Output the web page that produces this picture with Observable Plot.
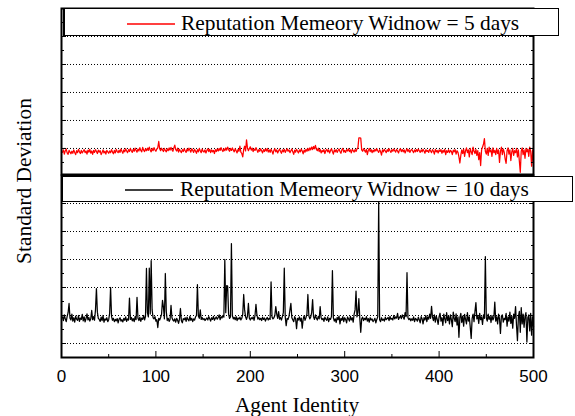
<!DOCTYPE html>
<html><head><meta charset="utf-8">
<script src="https://cdn.jsdelivr.net/npm/d3@7"></script>
<script src="https://cdn.jsdelivr.net/npm/@observablehq/plot@0.6"></script>
<style>
html,body{margin:0;padding:0;background:#fff;}
#chart{position:relative;width:575px;height:416px;overflow:hidden;font-family:"Liberation Serif",serif;color:#000;}
#chart > svg{position:absolute;left:0;top:0;background:transparent;overflow:visible;}
.lg{position:absolute;box-sizing:border-box;background:#fff;border:1px solid #000;}
.lg svg.s{position:absolute;width:48px;height:4px;overflow:visible;}
.lg .t{position:absolute;font-size:21.4px;line-height:21.4px;white-space:nowrap;}
.lab{position:absolute;font-size:21.4px;line-height:21.4px;white-space:nowrap;}
</style></head><body><div id="chart"></div>
<script>
// ---- data ----
const agents = d3.range(1, 501);
const red5 = [
0.86,0.95,0.80,0.92,0.98,0.84,0.79,0.93,0.87,0.81,
0.90,0.83,0.95,0.86,0.78,0.92,0.85,0.97,0.88,0.82,
0.93,0.84,0.90,0.96,0.85,0.91,0.80,0.94,0.87,0.97,
0.83,0.91,0.79,0.93,0.86,0.96,0.89,0.82,0.94,0.87,
0.92,0.78,0.86,0.95,0.84,0.90,0.80,0.93,0.88,0.83,
0.91,0.85,0.96,0.87,0.81,0.93,0.84,0.97,0.89,0.85,
0.94,0.86,0.98,0.90,0.83,0.95,0.88,0.99,0.91,0.85,
0.96,0.89,1.00,0.92,0.86,0.97,0.90,1.01,0.93,0.87,
0.98,0.91,1.03,0.93,0.88,1.04,0.94,0.89,0.99,0.92,
1.01,0.93,1.05,0.94,0.88,1.00,0.92,1.03,0.95,0.90,
0.98,1.02,1.25,0.99,0.92,1.01,0.95,0.89,1.00,0.93,
0.88,0.99,0.92,1.02,0.94,1.04,0.95,0.90,1.02,1.12,
0.96,0.91,1.01,0.87,0.97,0.90,0.85,0.96,0.89,0.99,
0.92,0.86,0.98,0.91,1.01,0.94,0.87,0.99,0.93,0.86,
0.97,0.90,0.83,0.96,0.88,1.00,0.92,0.85,0.98,0.90,
0.87,0.95,0.84,0.93,0.99,0.89,0.97,0.85,0.95,0.88,
0.93,0.82,0.96,0.89,0.98,0.91,1.00,0.93,1.03,0.95,
0.89,0.99,0.92,1.02,0.94,1.05,0.96,0.90,1.00,0.93,
1.02,0.94,0.88,0.99,0.92,0.84,0.97,0.90,1.08,0.87,
0.82,0.70,0.96,1.08,0.91,1.31,1.02,0.92,1.00,1.06,
0.94,1.01,0.89,0.98,0.93,1.03,0.95,0.86,0.96,0.90,
0.99,0.92,0.84,0.96,0.89,0.98,0.91,1.00,0.87,0.95,
0.86,0.97,0.90,0.80,0.93,0.99,0.88,0.95,0.84,0.92,
0.98,0.89,0.83,0.95,0.88,0.97,0.86,0.93,0.99,0.90,
0.95,0.85,0.92,0.98,0.88,0.79,0.94,0.87,0.97,0.90,
0.84,0.95,0.88,0.98,0.91,0.81,0.94,0.87,0.97,0.90,
1.00,0.92,1.02,0.95,1.05,0.96,1.07,0.99,1.11,0.97,
0.92,1.01,0.89,0.97,0.84,0.93,0.88,0.96,0.82,0.92,
0.97,0.88,0.95,0.84,0.93,0.99,0.89,0.80,0.95,0.88,
0.96,0.86,0.93,0.98,0.89,0.83,0.95,1.00,0.87,0.93,
0.86,0.96,0.91,0.99,0.89,0.95,0.84,0.97,0.92,0.87,
0.96,0.89,0.98,1.02,1.38,1.38,1.37,0.95,0.90,0.99,
0.93,0.87,0.97,0.78,0.93,1.00,0.89,0.96,0.85,0.94,
0.88,0.97,0.91,0.99,0.92,0.86,0.96,0.89,0.76,0.95,
0.88,0.97,0.91,0.85,0.96,0.89,0.99,0.92,0.86,0.96,
0.90,0.98,0.92,0.87,0.97,0.91,0.84,0.95,0.99,0.89,
0.96,0.88,0.95,0.84,0.93,0.99,0.89,0.96,0.86,0.93,
0.97,0.91,0.85,0.95,0.88,0.96,0.89,0.98,0.92,0.86,
0.95,0.88,0.97,0.91,0.83,0.96,0.89,0.93,0.86,0.97,
0.91,0.85,0.96,0.90,0.80,0.97,0.88,0.93,0.84,0.95,
0.89,0.96,0.83,0.93,0.87,0.97,0.78,0.92,0.86,0.96,
0.85,0.93,0.90,0.78,0.94,0.88,0.96,0.80,0.92,0.86,
0.70,0.48,0.75,0.95,0.82,0.98,0.72,0.92,1.02,0.85,
0.95,0.70,1.00,0.88,0.78,1.05,0.90,0.82,0.97,0.75,
0.92,0.60,0.85,0.39,0.95,1.05,1.15,1.35,0.90,0.80,
1.00,0.75,1.05,0.88,0.95,0.72,1.02,0.85,0.93,0.78,
1.00,0.82,0.95,0.50,0.90,1.05,0.78,0.98,0.86,0.62,
0.47,0.92,1.02,0.80,0.95,0.57,0.88,1.00,0.75,0.92,
0.85,1.00,0.70,0.95,0.55,0.15,0.90,1.02,0.78,0.95,
0.65,1.00,0.88,0.98,0.72,1.05,0.90,0.37,0.95,0.50
];
const black10 = [
0.95,0.82,1.02,0.88,0.78,0.97,1.10,1.43,0.90,0.84,
1.05,0.80,0.92,0.76,0.98,0.87,0.83,1.00,0.79,0.91,
0.86,1.04,0.81,0.95,0.77,0.89,1.06,0.84,0.93,0.80,
0.88,1.18,0.85,0.96,0.83,1.20,1.96,1.12,0.90,0.86,
0.79,0.94,0.82,1.00,0.76,0.88,0.84,0.92,0.78,0.85,
1.08,2.00,0.97,0.83,0.90,0.78,0.86,0.81,0.89,0.74,
0.87,0.92,0.80,0.85,0.77,0.90,0.83,0.95,0.79,0.88,
0.84,1.62,0.86,0.93,0.81,0.89,0.78,0.96,0.85,1.65,
0.90,0.82,0.94,0.79,0.91,0.86,1.00,0.84,0.97,2.68,
1.10,0.95,2.69,1.05,2.96,1.20,0.92,0.88,0.96,0.80,
0.85,0.57,0.90,0.84,0.93,1.05,1.54,1.30,0.88,2.50,
1.15,0.82,0.90,0.79,0.86,1.36,0.92,0.84,0.80,0.88,
0.76,0.90,0.83,0.72,0.87,1.25,0.81,0.74,0.89,0.85,
0.92,0.79,0.94,0.86,0.81,0.97,0.83,0.90,0.78,0.88,
0.84,0.95,1.00,2.10,0.98,0.90,1.20,0.86,0.93,0.85,
0.89,0.82,0.87,0.91,0.84,0.96,0.88,0.80,0.92,0.86,
0.97,0.83,0.90,0.95,0.87,0.93,1.02,0.85,0.96,0.91,
1.00,0.94,3.00,1.10,2.07,2.05,1.05,0.90,0.95,3.57,
1.00,0.88,0.93,0.85,0.96,0.82,0.91,0.87,0.94,0.84,
0.90,1.05,1.75,1.20,0.95,0.86,0.98,1.43,0.90,0.84,
0.92,0.88,0.95,0.83,1.00,1.40,1.02,0.87,0.93,0.85,
0.90,0.82,0.94,0.86,0.91,0.80,0.88,0.93,0.84,0.90,
0.86,2.20,0.95,0.88,0.92,1.00,1.32,1.05,0.90,1.14,
0.87,0.93,0.84,0.96,1.10,2.69,0.95,0.64,0.90,0.86,
0.97,1.20,1.43,0.92,0.85,0.78,0.96,0.88,0.53,0.90,
0.84,0.95,0.80,0.91,0.55,0.87,0.99,0.83,0.93,1.05,
1.75,1.00,0.88,0.94,1.10,1.57,0.95,0.86,1.02,0.90,
0.84,0.97,0.88,1.32,0.92,0.85,0.90,0.79,0.94,0.87,
0.83,0.95,0.78,0.90,0.86,0.97,2.60,0.92,0.80,0.88,
0.75,0.93,0.85,0.98,0.70,0.90,0.83,0.96,0.78,0.92,
0.86,0.74,0.95,0.88,0.80,0.97,0.84,0.92,0.76,1.05,
1.20,1.87,0.95,1.10,1.60,0.90,0.40,0.88,0.94,0.82,
0.90,0.85,0.96,0.80,0.89,0.76,0.92,0.84,0.88,0.78,
0.83,0.90,0.74,0.86,0.95,5.05,0.85,0.78,0.92,0.83,
0.87,0.80,0.94,0.85,0.89,0.93,0.82,0.97,0.86,0.90,
0.84,1.00,0.88,0.95,0.91,1.08,0.86,0.93,0.97,0.89,
1.02,0.94,0.87,1.10,0.96,2.53,0.92,0.85,0.90,0.81,
0.88,0.83,0.95,0.78,0.90,0.86,0.80,0.94,0.85,0.74,
0.96,0.88,0.70,0.92,0.84,1.00,0.78,0.95,0.87,1.05,
0.90,1.33,0.94,0.82,1.02,0.76,0.98,0.86,0.68,0.96,
1.08,0.80,0.92,0.65,1.05,0.88,0.74,1.10,0.82,0.97,
0.70,1.02,0.85,0.60,1.12,0.90,0.78,1.06,0.66,0.95,
0.22,0.92,1.08,0.75,0.98,0.62,1.04,0.86,0.70,1.10,
0.80,0.95,0.58,0.18,0.90,1.05,0.78,1.15,1.46,0.88,
1.00,0.72,1.08,0.85,0.95,0.68,1.02,0.90,3.10,0.92,
0.80,1.05,0.86,0.97,0.75,1.00,0.84,0.92,1.48,0.80,
0.95,0.70,1.05,0.88,0.36,0.98,1.02,0.76,0.90,0.85,
1.08,0.62,0.95,0.80,1.12,0.72,0.98,0.55,1.05,0.90,
1.32,0.65,0.10,0.95,1.15,0.40,1.28,0.70,1.05,0.58,
0.97,1.10,0.05,0.92,1.02,0.45,1.08,0.30,0.95,0.60
];
const xTicks = [0, 100, 200, 300, 400, 500];
const xMinor = [50, 150, 250, 350, 450];
const topGrid = [1, 2, 3, 4, 5];
const bottomGrid = [0, 1, 2, 3, 4, 5];
const yMinor = [0.5, 1.5, 2.5, 3.5, 4.5, 5.5];
const seriesNames = ["Reputation Memeory Widnow = 5 days", "Reputation Memeory Widnow = 10 days"];
const seriesColors = ["#ff0000", "#000000"];
const xLabel = "Agent Identity";
const yLabel = "Standard Deviation";

// ---- drawing ----
const chart = document.getElementById("chart");
const blank = () => "";

function inwardY(ticks, len) {
  return [
    Plot.axisY({anchor: "left", ticks, tickSize: len, dx: len, tickFormat: blank, label: null, stroke: "#000"}),
    Plot.axisY({anchor: "right", ticks, tickSize: len, dx: -len, tickFormat: blank, label: null, stroke: "#000"})
  ];
}

function panel({values, color, height, mt, mb, yDomain, grid, xAnchor}) {
  const data = values.map((v, i) => ({agent: agents[i], sd: v}));
  const sign = xAnchor === "top" ? 1 : -1;
  const marks = [
    Plot.ruleY(grid, {stroke: "#000", strokeWidth: 1, strokeDasharray: "1,2"}),
    Plot.line(data, {x: "agent", y: "sd", stroke: color, strokeWidth: 1.25}),
    ...inwardY(grid, 5),
    ...inwardY(yMinor, 3),
    Plot.axisX({anchor: xAnchor, ticks: xTicks, tickSize: 6, dy: sign * 6, tickFormat: blank, label: null}),
    Plot.axisX({anchor: xAnchor, ticks: xMinor, tickSize: 3, dy: sign * 3, tickFormat: blank, label: null}),
    Plot.frame({stroke: "#000", strokeWidth: 2})
  ];
  if (xAnchor === "bottom") {
    marks.push(Plot.axisX({anchor: "bottom", ticks: xTicks, tickSize: 0, tickPadding: 12, label: null, fontSize: 17}));
  }
  return Plot.plot({
    width: 575, height,
    marginTop: mt, marginBottom: mb, marginLeft: 61, marginRight: 42,
    x: {domain: [0, 500]},
    y: {domain: yDomain},
    style: {background: "transparent", fontFamily: "Liberation Sans", fontSize: "17px", color: "#000", overflow: "visible"},
    marks
  });
}

const bottomPanel = panel({values: black10, color: seriesColors[1], height: 416, mt: 175, mb: 59, yDomain: [-0.5, 6], grid: bottomGrid, xAnchor: "bottom"});
const topPanel = panel({values: red5, color: seriesColors[0], height: 180, mt: 8, mb: 6, yDomain: [0.07, 6], grid: topGrid, xAnchor: "top"});
chart.appendChild(bottomPanel);
chart.appendChild(topPanel);

const NS = "http://www.w3.org/2000/svg";
function legendBox(name, color, box, sample, text) {
  const d = document.createElement("div");
  d.className = "lg";
  Object.assign(d.style, {left: box[0] + "px", top: box[1] + "px", width: box[2] + "px", height: box[3] + "px", borderLeftWidth: "2px"});
  const s = document.createElementNS(NS, "svg");
  s.setAttribute("class", "s");
  s.setAttribute("width", "48");
  s.setAttribute("height", "4");
  s.style.left = sample[0] + "px";
  s.style.top = (sample[1] - 1.5) + "px";
  const ln = document.createElementNS(NS, "line");
  ln.setAttribute("x1", "0"); ln.setAttribute("x2", "48");
  ln.setAttribute("y1", "2"); ln.setAttribute("y2", "2");
  ln.setAttribute("stroke", color);
  ln.setAttribute("stroke-width", "1.5");
  s.appendChild(ln);
  const t = document.createElement("div");
  t.className = "t";
  t.textContent = name;
  Object.assign(t.style, {left: text[0] + "px", top: text[1] + "px"});
  d.append(s, t);
  chart.appendChild(d);
}
legendBox(seriesNames[0], seriesColors[0], [63, 8, 496, 28], [62, 14], [116, 4.4]);
legendBox(seriesNames[1], seriesColors[1], [61, 176, 512, 26], [62, 12], [117, 2]);

const xl = document.createElement("div");
xl.className = "lab";
xl.textContent = xLabel;
Object.assign(xl.style, {left: "297px", top: "395px", transform: "translateX(-50%)"});
chart.appendChild(xl);

const yl = document.createElement("div");
yl.className = "lab";
yl.textContent = yLabel;
Object.assign(yl.style, {left: "24.5px", top: "180.5px", transform: "translate(-50%,-50%) rotate(-90deg)"});
chart.appendChild(yl);
</script></body></html>
